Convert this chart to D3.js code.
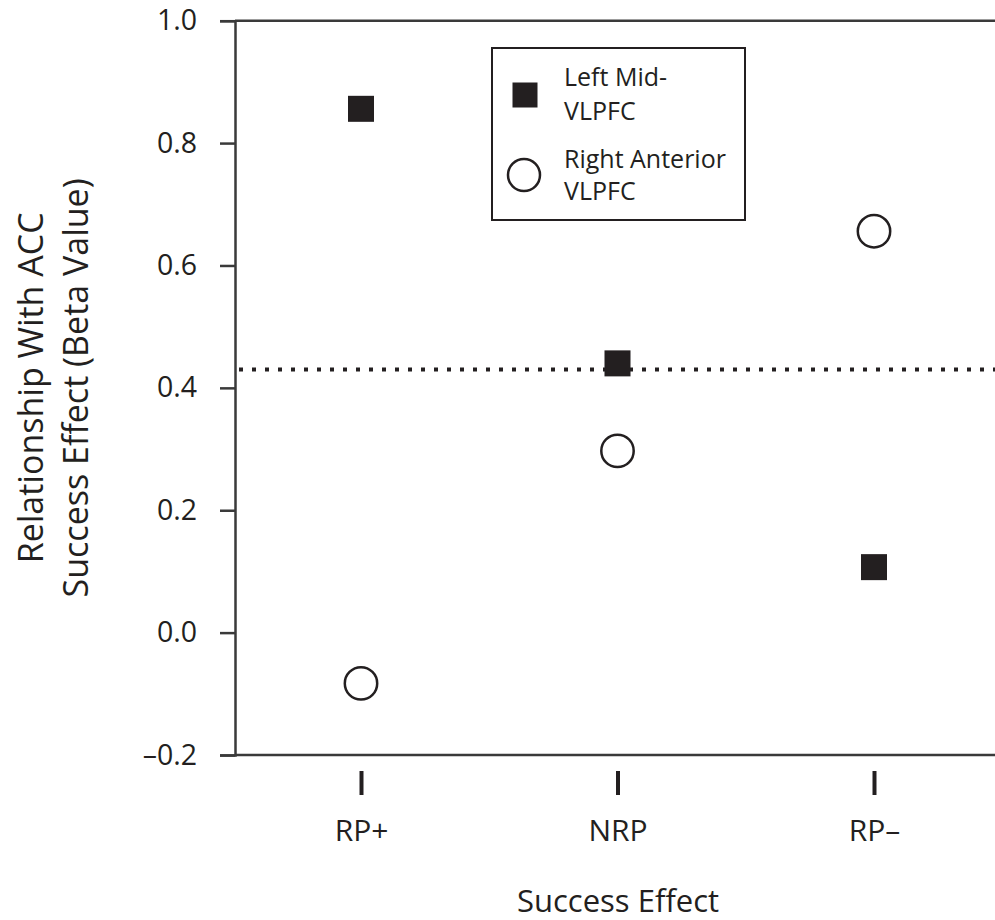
<!DOCTYPE html>
<html>
<head>
<meta charset="utf-8">
<script src="https://cdn.jsdelivr.net/npm/d3@7"></script>
<style>
  body { margin: 0; background: #fff; }
  svg { display: block; font-family: "Open Sans", sans-serif; }
  text { fill: #231f20; }
</style>
</head>
<body>
<svg width="995" height="920"></svg>
<script>
// values
const categories = ["RP+", "NRP", "RP\u2013"];
const leftMid = [0.856, 0.440, 0.107];     // Left Mid-VLPFC (squares)
const rightAnt = [-0.083, 0.297, 0.656];   // Right Anterior VLPFC (circles)
const threshold = 0.43;                     // dotted reference line
const yTicks = [-0.2, 0, 0.2, 0.4, 0.6, 0.8, 1.0];

const ink = "#231f20";
const axisInk = "#3a3a3a";

// note: "top" is reserved on window, so use plot* names
var svg = d3.select("svg"),
    width = +svg.attr("width"),
    plotLeft = 235, plotTop = 20.7, plotBottom = 755;

var y = d3.scaleLinear()
    .domain([-0.2, 1.0])
    .range([plotBottom, plotTop]);

var x = d3.scalePoint()
    .domain(categories)
    .range([361, 874]);

const fmt = d => (d < 0 ? "\u2013" : "") + d3.format(".1f")(Math.abs(d));

// y axis
var yAxis = d3.axisLeft(y).tickValues(yTicks).tickFormat(fmt)
    .tickSize(15).tickPadding(23);

var gy = svg.append("g")
    .attr("transform", "translate(" + plotLeft + ",0)")
    .call(yAxis);
gy.select(".domain").attr("stroke", axisInk).attr("stroke-width", 2.5);
gy.selectAll(".tick line").attr("stroke", axisInk).attr("stroke-width", 2.5);
gy.selectAll(".tick text").attr("font-size", 28.5).attr("font-family", "Open Sans").style("fill", ink);

// top and bottom frame lines
svg.selectAll("line.frame")
    .data([1.0, -0.2]).enter()
    .append("line")
    .attr("class", "frame")
    .attr("x1", plotLeft).attr("x2", width)
    .attr("y1", d => y(d)).attr("y2", d => y(d))
    .attr("stroke", axisInk).attr("stroke-width", 2.5);

// category ticks + labels
var xAxis = d3.axisBottom(x).tickSizeInner(24).tickSizeOuter(0).tickPadding(24.7);
var gx = svg.append("g")
    .attr("transform", "translate(0,771)")
    .call(xAxis);
gx.select(".domain").remove();
gx.selectAll(".tick line").attr("stroke", ink).attr("stroke-width", 4);
gx.selectAll(".tick text").attr("font-size", 30).attr("font-family", "Open Sans").style("fill", ink);

// dotted reference line
svg.append("line")
    .attr("x1", plotLeft + 4).attr("x2", width)
    .attr("y1", y(threshold)).attr("y2", y(threshold))
    .attr("stroke", ink).attr("stroke-width", 4)
    .attr("stroke-dasharray", "4,9");

// points
const sq = 26;
svg.append("g")
    .selectAll("rect")
    .data(leftMid).enter()
    .append("rect")
    .attr("x", (d, i) => x(categories[i]) - sq / 2)
    .attr("y", d => y(d) - sq / 2)
    .attr("width", sq).attr("height", sq)
    .attr("fill", ink);

svg.append("g")
    .selectAll("circle")
    .data(rightAnt).enter()
    .append("circle")
    .attr("cx", (d, i) => x(categories[i]))
    .attr("cy", d => y(d))
    .attr("r", 16.2)
    .attr("fill", "#fff")
    .attr("stroke", ink).attr("stroke-width", 2.5);

// legend
var lg = svg.append("g");
lg.append("rect")
    .attr("x", 492).attr("y", 48).attr("width", 253).attr("height", 172)
    .attr("fill", "#fff").attr("stroke", ink).attr("stroke-width", 2);
lg.append("rect")
    .attr("x", 512.5).attr("y", 82.5).attr("width", 25).attr("height", 25)
    .attr("fill", ink);
lg.append("circle")
    .attr("cx", 524).attr("cy", 175).attr("r", 16)
    .attr("fill", "#fff").attr("stroke", ink).attr("stroke-width", 2.5);
const legendLines = [["Left Mid-", 86], ["VLPFC", 120], ["Right Anterior", 168], ["VLPFC", 200]];
lg.selectAll("text.lg")
    .data(legendLines).enter()
    .append("text")
    .attr("class", "lg")
    .attr("x", 564).attr("y", d => d[1])
    .attr("font-size", 25)
    .text(d => d[0]);

// axis titles
svg.append("text")
    .attr("x", 618).attr("y", 912)
    .attr("text-anchor", "middle")
    .attr("font-size", 31)
    .text("Success Effect");

[["Relationship With ACC", 43], ["Success Effect (Beta Value)", 88]].forEach(t => {
    svg.append("text")
        .attr("transform", "translate(" + t[1] + "," + ((plotTop + plotBottom) / 2) + ") rotate(-90)")
        .attr("text-anchor", "middle")
        .attr("font-size", 34)
        .text(t[0]);
});
</script>
</body>
</html>
